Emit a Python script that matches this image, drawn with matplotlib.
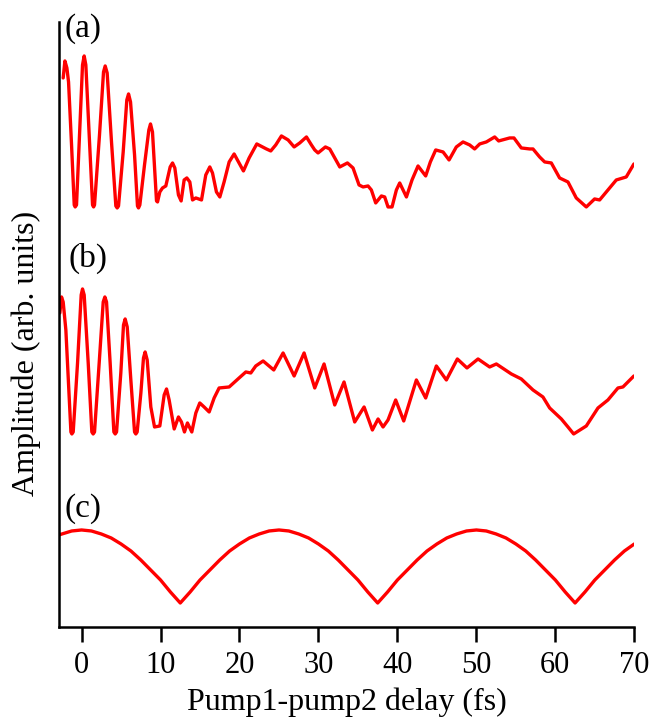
import matplotlib
matplotlib.use("Agg")
import matplotlib.pyplot as plt

# Trace (a): measured signal, delay (fs) and amplitude (arb. units)
delay_a = [-2.33, -2.11, -1.86, -1.65, -1.27, -0.93, -0.81, -0.64, -0.22, 0.12,
           0.33, 0.54, 0.97, 1.39, 1.52, 1.64, 2.27, 2.78, 2.99, 3.24,
           3.79, 4.34, 4.51, 4.68, 5.27, 5.73, 5.95, 6.2, 6.71, 7.08,
           7.21, 7.38, 7.97, 8.52, 8.73, 8.98, 9.28, 9.49, 9.62, 9.91,
           10.25, 10.67, 11.22, 11.52, 11.81, 12.27, 12.61, 12.99, 13.33, 13.71,
           14.05, 14.47, 14.81, 15.19, 15.73, 16.24, 16.58, 17.08, 17.51, 18.05,
           18.69, 19.32, 19.87, 20.5, 21.22, 22.19, 23.41, 23.96, 24.59, 25.31,
           26.16, 26.92, 27.63, 28.48, 29.11, 29.53, 29.95, 30.88, 31.43, 32.06,
           32.7, 33.67, 34.38, 35.14, 35.65, 36.28, 36.7, 37.25, 37.97, 38.39,
           38.81, 39.32, 39.87, 40.29, 40.71, 41.14, 41.85, 42.61, 43.58, 44.17,
           44.85, 45.78, 46.54, 47.46, 48.31, 49.15, 49.78, 50.42, 51.26, 52.32,
           52.82, 54.22, 54.76, 55.69, 56.75, 57.17, 58.01, 58.65, 59.49, 60.54,
           61.6, 62.65, 63.92, 64.97, 65.61, 66.66, 67.72, 68.98, 69.95]
amp_a = [13.2, 14.9, 14.2, 12.8, 6.5, 0.5, 0.3, 0.5, 8.2, 14.5,
         15.4, 14.5, 7.5, 0.5, 0.3, 0.5, 7.5, 13.8, 14.4, 13.7,
         6.8, 0.4, 0.2, 0.4, 5.8, 11.0, 11.6, 10.8, 5.5, 0.4,
         0.2, 0.5, 4.5, 8.0, 8.6, 7.8, 3.8, 0.9, 0.8, 1.8,
         2.2, 2.4, 4.3, 4.7, 4.2, 1.5, 0.9, 3.0, 3.2, 2.8,
         1.0, 1.2, 1.1, 1.0, 3.5, 4.3, 3.7, 1.8, 1.3, 2.8,
         4.8, 5.6, 4.8, 3.9, 5.2, 6.6, 6.1, 5.9, 6.5, 7.4,
         7.0, 6.3, 6.7, 7.3, 6.5, 6.0, 5.7, 6.3, 6.1, 5.2,
         4.3, 4.7, 4.2, 2.5, 2.3, 2.4, 2.0, 0.7, 1.4, 1.3,
         0.3, 0.3, 2.0, 2.7, 2.0, 1.3, 3.0, 4.4, 3.4, 4.8,
         6.0, 5.8, 5.0, 6.3, 6.8, 6.5, 6.1, 6.6, 6.8, 7.3,
         6.9, 7.2, 7.2, 6.2, 6.1, 6.1, 5.3, 4.8, 4.7, 3.2,
         2.8, 1.2, 0.3, 1.1, 1.0, 2.0, 3.0, 3.3, 4.6]

# Trace (b)
delay_b = [-2.75, -2.54, -2.33, -1.99, -1.57, -1.35, -1.23, -1.06, -0.51, -0.05,
           0.12, 0.33, 0.84, 1.3, 1.47, 1.64, 2.23, 2.74, 2.95, 3.16,
           3.62, 4.09, 4.26, 4.43, 4.97, 5.31, 5.52, 5.78, 6.24, 6.71,
           6.87, 7.04, 7.51, 7.84, 8.05, 8.31, 8.77, 9.24, 9.91, 10.46,
           10.76, 11.09, 11.73, 12.27, 12.65, 13.03, 13.41, 13.96, 14.47, 14.97,
           15.52, 16.16, 16.79, 17.42, 18.69, 19.95, 20.8, 21.43, 22.06, 22.99,
           24.34, 25.52, 26.92, 28.18, 29.53, 30.71, 32.06, 33.24, 34.59, 35.78,
           36.83, 37.55, 38.18, 38.81, 39.78, 40.8, 42.4, 43.58, 44.93, 46.2,
           47.59, 48.81, 50.21, 51.68, 52.53, 54.43, 55.69, 57.17, 58.43, 59.28,
           60.76, 61.6, 62.32, 63.92, 65.4, 66.66, 67.93, 68.56, 69.95]
amp_b = [12.3, 13.9, 13.4, 10.6, 3.9, 0.4, 0.2, 0.4, 7.3, 14.1,
         14.7, 14.1, 7.3, 0.4, 0.2, 0.4, 7.3, 13.4, 13.9, 13.4,
         7.3, 0.4, 0.2, 0.4, 6.3, 11.1, 11.7, 10.9, 5.6, 0.4,
         0.2, 0.4, 4.3, 7.8, 8.4, 7.6, 2.9, 0.9, 1.0, 4.1,
         4.7, 3.6, 0.7, 1.9, 1.4, 0.4, 1.3, 0.4, 2.3, 3.3,
         2.9, 2.4, 3.8, 4.8, 4.9, 5.8, 6.4, 6.3, 7.0, 7.5,
         6.6, 8.3, 6.0, 8.3, 4.8, 7.2, 3.1, 5.4, 1.4, 2.9,
         0.6, 1.7, 0.9, 1.6, 3.6, 1.5, 5.6, 3.8, 7.0, 5.6,
         7.7, 6.8, 7.7, 6.9, 7.2, 6.2, 5.7, 4.6, 3.9, 2.8,
         1.7, 0.9, 0.2, 1.0, 2.8, 3.6, 4.8, 4.9, 6.0]

# Trace (c)
delay_c = [-2.9, -1.25, 0.0, 1.25, 2.5, 3.75, 5.0, 6.25, 7.5, 8.75,
           10.0, 11.25, 12.5, 13.75, 15.0, 16.25, 17.5, 18.75, 20.0, 21.25,
           22.5, 23.75, 25.0, 26.25, 27.5, 28.75, 30.0, 31.25, 32.5, 33.75,
           35.0, 36.25, 37.5, 38.75, 40.0, 41.25, 42.5, 43.75, 45.0, 46.25,
           47.5, 48.75, 50.0, 51.25, 52.5, 53.75, 55.0, 56.25, 57.5, 58.75,
           60.0, 61.25, 62.5, 63.75, 65.0, 66.25, 67.5, 68.75, 70.0]
amp_c = [6.8, 7.2, 7.3, 7.2, 6.9, 6.5, 5.9, 5.2, 4.3, 3.3,
         2.3, 1.1, 0.0, 1.1, 2.3, 3.3, 4.3, 5.2, 5.9, 6.5,
         6.9, 7.2, 7.3, 7.2, 6.9, 6.5, 5.9, 5.2, 4.3, 3.3,
         2.3, 1.1, 0.0, 1.1, 2.3, 3.3, 4.3, 5.2, 5.9, 6.5,
         6.9, 7.2, 7.3, 7.2, 6.9, 6.5, 5.9, 5.2, 4.3, 3.3,
         2.3, 1.1, 0.0, 1.1, 2.3, 3.3, 4.3, 5.2, 5.9]

panel_labels = ["(a)", "(b)", "(c)"]
x_ticks = [0, 10, 20, 30, 40, 50, 60, 70]

plt.rcParams["font.family"] = ["Liberation Serif", "DejaVu Serif"]

fig = plt.figure(figsize=(6.66, 7.22), dpi=100)
ax = fig.add_axes([0.0881, 0.1316, 0.8643, 0.838])

# vertical offsets that stack the three traces
offsets = [41.7, 19.1, 2.4]
traces = [(delay_a, amp_a), (delay_b, amp_b), (delay_c, amp_c)]
for (dx, dy), off in zip(traces, offsets):
    ax.plot(dx, [v + off for v in dy], color="#ff0000", lw=2.4,
            solid_joinstyle="round", solid_capstyle="round")

label_pos = [(-2.1, 59.8), (-1.7, 36.9), (-2.1, 11.8)]
for lab, (tx, ty) in zip(panel_labels, label_pos):
    ax.text(tx, ty, lab, fontsize=24, va="center", ha="left")

ax.set_xlim(-2.9, 70)
ax.set_ylim(0, 60.5)
ax.set_xticks(x_ticks)
ax.set_yticks([])
ax.tick_params(axis="x", direction="out", length=11, width=1.8,
               labelsize=22, pad=6)
for side in ("top", "right"):
    ax.spines[side].set_visible(False)
for side in ("left", "bottom"):
    ax.spines[side].set_linewidth(1.8)

ax.set_xlabel("Pump1-pump2 delay (fs)", fontsize=23, labelpad=6)
# y label placed by hand: it sits a bit below the axis centre
fig.text(26 / 666, 1 - 353 / 722, "Amplitude (arb. units)", fontsize=23,
         rotation=90, ha="center", va="center")

fig.savefig("out.png", dpi=100)
